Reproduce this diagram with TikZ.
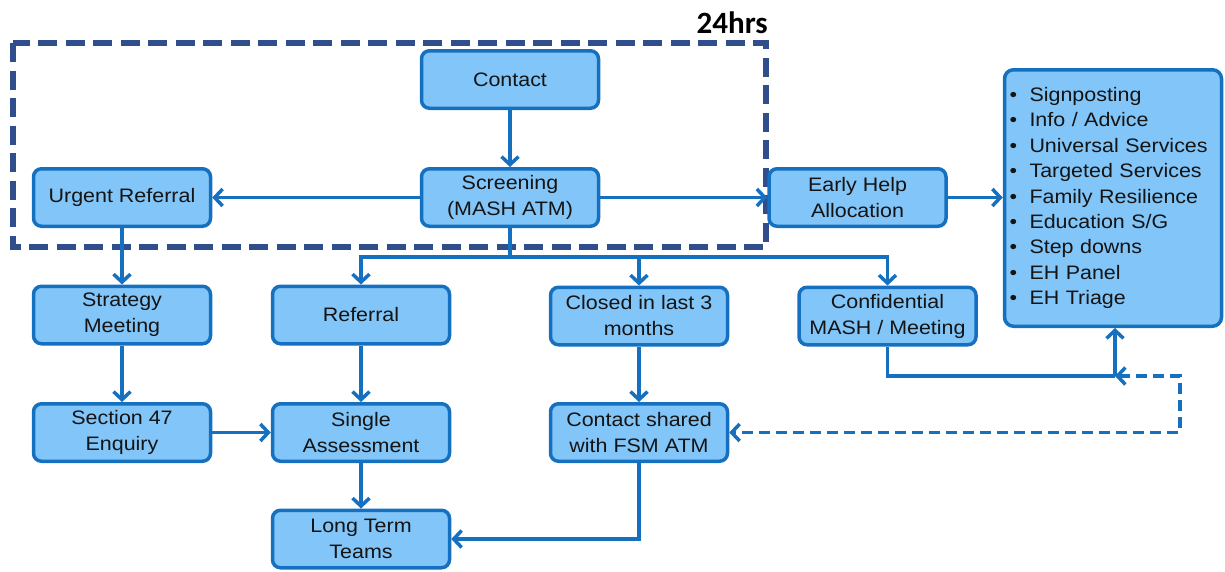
\documentclass[tikz,border=0pt]{standalone}
\usepackage{fontspec}
\setmainfont{Liberation Sans}
\newfontfamily\boxfont[FakeStretch=1.1]{Liberation Sans}
\newfontfamily\hrsfont{Carlito}
\usetikzlibrary{arrows.meta}
\definecolor{boxfill}{RGB}{130,197,248}
\definecolor{boxline}{RGB}{22,112,192}
\definecolor{navy}{RGB}{48,78,140}
\definecolor{txt}{RGB}{20,20,20}
\tikzset{
  flowbox/.style={draw=boxline, fill=boxfill, line width=3.5pt, rounded corners=8pt,
    minimum width=177pt, minimum height=57.5pt, inner sep=0pt, align=center,
    text=txt, font=\boxfont\fontsize{19.5}{26}\selectfont},
  listbox/.style={draw=boxline, fill=boxfill, line width=3.5pt, rounded corners=9pt,
    minimum width=216.5pt, minimum height=256.5pt, text width=207pt, inner xsep=5pt,
    inner ysep=0pt, align=left, text=txt, font=\boxfont\fontsize{19.5}{25.4}\selectfont},
  conn/.style={draw=boxline, line width=3.5pt},
  arr/.style={conn, -{Straight Barb[length=8pt,width=17pt]}},
  dasharr/.style={conn, dash pattern=on 11pt off 6pt,
    {Straight Barb[length=8pt,width=17pt]}-{Straight Barb[length=8pt,width=17pt]}},
  frame/.style={draw=navy, line width=5.5pt, dash pattern=on 19pt off 8.5pt}
}
\newcommand{\bitem}[1]{\makebox[20pt][l]{\textbullet}#1}
\begin{document}
\begin{tikzpicture}[x=1pt,y=-1pt]
\useasboundingbox (0,0) rectangle (1225,571);
% 24hrs frame
\draw[frame] (13,43) rectangle (766,247);
\node[anchor=base east, inner sep=0pt, font=\hrsfont\bfseries\fontsize{31}{31}\selectfont] (hrs) at (768,33) {24hrs};
% boxes
\node[flowbox] (contact) at (510,79.5) {Contact};
\node[flowbox] (screen) at (510,197.5) {Screening\\(MASH ATM)};
\node[flowbox] (urgent) at (122,197.5) {Urgent Referral};
\node[flowbox] (early) at (857.5,197.5) {Early Help\\Allocation};
\node[flowbox] (strategy) at (122,315) {Strategy\\Meeting};
\node[flowbox] (referral) at (361,315) {Referral};
\node[flowbox] (closed) at (639,316) {Closed in last 3\\months};
\node[flowbox] (conf) at (887.5,316) {Confidential\\MASH / Meeting};
\node[flowbox] (s47) at (122,432.5) {Section 47\\Enquiry};
\node[flowbox] (single) at (361,432.5) {Single\\Assessment};
\node[flowbox] (shared) at (639,432.5) {Contact shared\\with FSM ATM};
\node[flowbox] (ltt) at (361,539) {Long Term\\Teams};
\node[listbox] (list) at (1113,198) {\bitem{Signposting}\\\bitem{Info / Advice}\\\bitem{Universal Services}\\\bitem{Targeted Services}\\\bitem{Family Resilience}\\\bitem{Education S/G}\\\bitem{Step downs}\\\bitem{EH Panel}\\\bitem{EH Triage}};
% coordinates
\coordinate (br) at (510,257);
\coordinate (jn) at (1115,376);
\coordinate (dr) at (1180,376);
% connectors
\draw[arr] (contact) -- (screen);
\draw[arr] (screen) -- (urgent);
\draw[arr] (screen) -- (early);
\draw[conn] (screen.south) -- (br);
\draw[arr] (br) -| (referral.north);
\draw[arr] (br) -| (closed.north);
\draw[arr] (br) -| (conf.north);
\draw[arr] (early.east) -- (list.west |- early.east);
\draw[arr] (urgent) -- (strategy);
\draw[arr] (strategy) -- (s47);
\draw[arr] (s47) -- (single);
\draw[arr] (referral) -- (single);
\draw[arr] (single) -- (ltt);
\draw[arr] (closed) -- (shared);
\draw[arr] (shared.south) |- (ltt.east);
\draw[conn] (conf.south) |- (jn);
\draw[arr] (jn) -- (jn |- list.south);
\draw[dasharr] (jn) -- (dr) |- (shared.east);
\end{tikzpicture}
\end{document}
